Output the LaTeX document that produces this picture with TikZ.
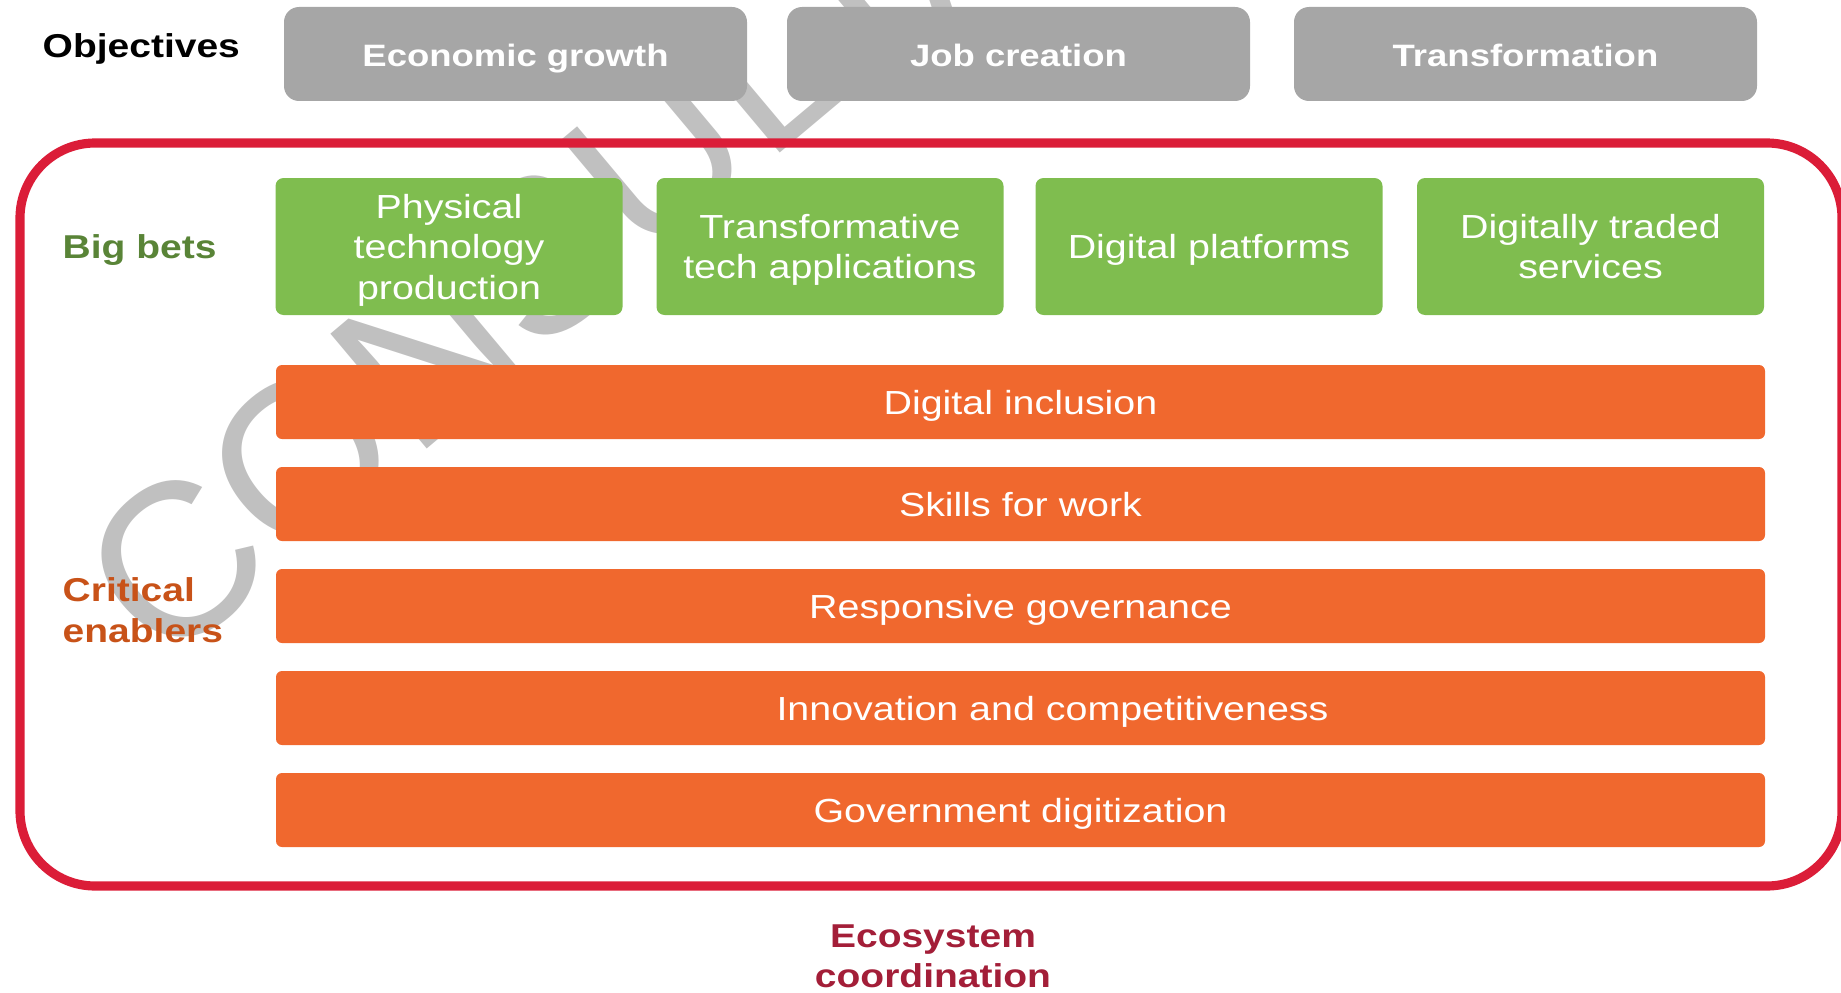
\documentclass[tikz,border=0pt]{standalone}
\usepackage{fontspec}
\setmainfont{Liberation Sans}[FakeStretch=1.18]
\newfontfamily\markfont{Liberation Sans}
\usepackage{tikz}
\definecolor{objgray}{RGB}{166,166,166}
\definecolor{betgreen}{RGB}{127,189,79}
\definecolor{enorange}{RGB}{240,104,46}
\definecolor{framered}{RGB}{219,29,56}
\definecolor{markgray}{RGB}{192,192,192}
\colorlet{betlabel}{betgreen!70!black}
\definecolor{enlabel}{RGB}{200,82,24}
\definecolor{ecolabel}{RGB}{163,30,56}
\tikzset{
  objbox/.style={fill=objgray,rounded corners=0.15cm,minimum width=4.63cm,minimum height=0.94cm,text=white,text height=0.72em,text depth=0pt,font=\fontsize{8.8}{10.5}\selectfont\bfseries},
  betbox/.style={fill=betgreen,rounded corners=0.08cm,minimum width=3.47cm,minimum height=1.37cm,text=white,align=center,text depth=0pt,font=\fontsize{9.5}{11.5}\selectfont},
  enbar/.style={fill=enorange,rounded corners=0.06cm,minimum width=14.89cm,minimum height=0.74cm,text=white,text height=0.72em,text depth=0pt,font=\fontsize{9.5}{11.5}\selectfont},
  rowlabel/.style={anchor=west,align=left,inner sep=0pt,font=\fontsize{9.4}{11.5}\selectfont\bfseries},
  wmark/.style={text=markgray,inner sep=0pt,font=\markfont\fontsize{62}{62}\selectfont}
}

\begin{document}
\begin{tikzpicture}
  \useasboundingbox (0,0) rectangle (18.41,9.92);
  \node[wmark,rotate=40,anchor=base west] (wm) at (1.63,3.21) {CONSULTATION};
  \draw[framered,line width=2.6pt,rounded corners=0.75cm] (0.20,1.06) rectangle (18.42,8.49);
  \node[rowlabel] (obj) at (0.42,9.435) {Objectives};
  \node[objbox] (econ) at (5.155,9.38) {Economic growth};
  \node[objbox] (jobs) at (10.185,9.38) {Job creation};
  \node[objbox] (transf) at (15.255,9.38) {Transformation};
  \node[rowlabel,text=betlabel] (bets) at (0.62,7.415) {Big bets};
  \node[betbox] (phys) at (4.49,7.455) {Physical\\technology\\production};
  \node[betbox] (techapp) at (8.30,7.455) {Transformative\\tech applications};
  \node[betbox] (platf) at (12.09,7.455) {Digital platforms};
  \node[betbox] (traded) at (15.905,7.455) {Digitally traded\\services};
  \foreach \nm/\yy/\dx/\txt in {incl/5.90/0cm/Digital inclusion,skills/4.88/0cm/Skills for work,
      gov/3.86/0cm/Responsive governance,innov/2.84/0.64cm/Innovation and competitiveness,
      digit/1.82/0cm/Government digitization}
    \node[enbar] (\nm) at (10.205,\yy) {\hspace*{\dx}\txt};
  \node[rowlabel,text=enlabel] (enab) at (0.62,3.82) {Critical\\enablers};
  \node[rowlabel,anchor=center,align=center,text=ecolabel] (eco) at (9.33,0.36) {Ecosystem\\coordination};
\end{tikzpicture}
\end{document}
